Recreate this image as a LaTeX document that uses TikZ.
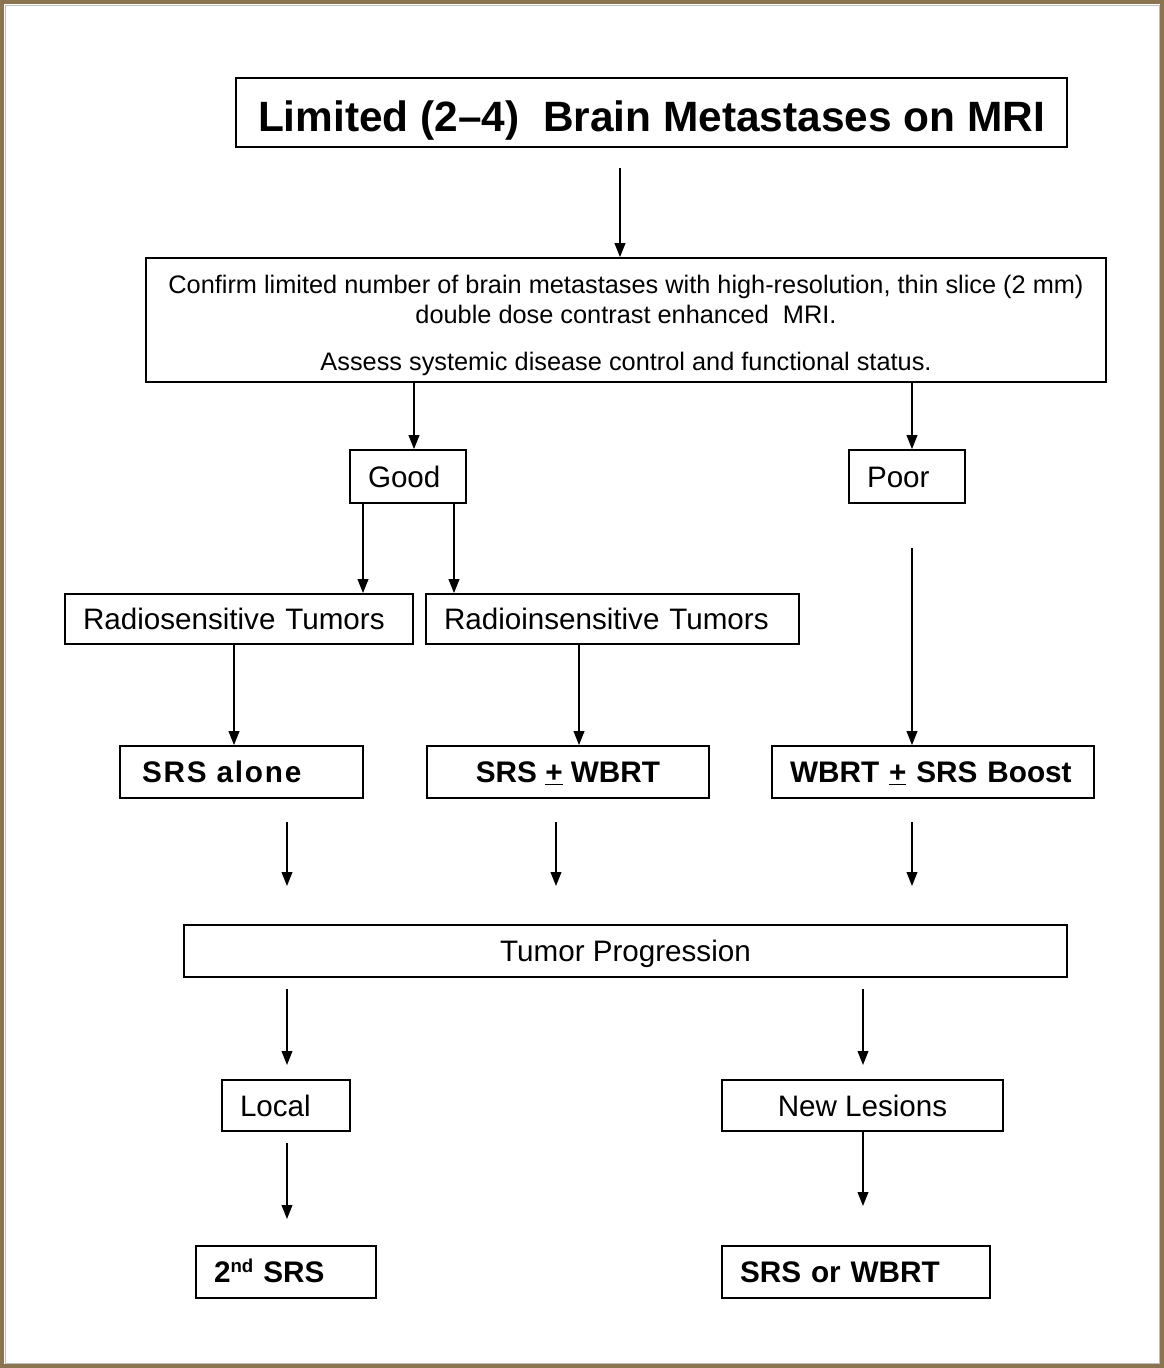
\documentclass[tikz,border=0pt]{standalone}
\usepackage{fontspec}
\setmainfont{Liberation Sans}
\usetikzlibrary{arrows.meta}
\definecolor{framebrown}{RGB}{139,116,82}
\begin{document}
\begin{tikzpicture}[x=0.75pt,y=-0.75pt,
  box/.style={draw=black,line width=1.3pt,rectangle,inner sep=0pt,text height=18.4pt,text depth=2.2pt,font=\fontsize{22.2}{26}\selectfont},
  lbox/.style={box,inner xsep=13.5pt,align=left},
  bbox/.style={box,font=\fontsize{22.3}{26}\selectfont\bfseries},
  lbbox/.style={lbox,font=\fontsize{22.3}{26}\selectfont\bfseries},
  arr/.style={line width=1.3pt,-{Triangle[length=10.5pt,width=8pt]}}]
\useasboundingbox (0,0) rectangle (1164,1368);
\fill[framebrown] (0,0) rectangle (1164,1368);
\fill[white] (4,4) rectangle (1160,1364);
\draw[black!25,line width=0.6pt] (5,5) rectangle (1159,1363);

\node[box,minimum width=831*0.75pt,minimum height=69*0.75pt,text height=31pt,text depth=3.2pt,font=\fontsize{31.8}{36}\selectfont\bfseries] (title) at (651.5,112.5) {Limited (2–4)\ \ Brain Metastases on MRI};
\node[draw=black,line width=1.3pt,inner sep=0pt,minimum width=960*0.75pt,minimum height=124*0.75pt,align=center,font=\fontsize{19}{22.5}\selectfont] (confirm) at (626,320) {\rule{0pt}{21.5pt}Confirm limited number of brain metastases with high-resolution, thin slice (2 mm)\\ double dose contrast enhanced\ \ MRI.\\[12.5pt] Assess systemic disease control and functional status.};

\node[lbox,text width=(116-36)*0.75pt,minimum height=53*0.75pt] (good) at (408,476.5) {Good};
\node[lbox,text width=(116-36)*0.75pt,minimum height=53*0.75pt] (poor) at (907,476.5) {Poor};

\node[lbox,text width=(346-34)*0.75pt,minimum height=50*0.75pt] (rs) at (239,619) {Radiosensitive Tumors};
\node[lbox,text width=(371-34)*0.75pt,minimum height=50*0.75pt] (ri) at (612.5,619) {Radioinsensitive Tumors};

\node[lbbox,text width=(243-44)*0.75pt,minimum height=52*0.75pt,inner xsep=16.5pt] (srsa) at (241.5,772) {\addfontfeature{LetterSpace=6}SRS alone};
\node[bbox,minimum width=282*0.75pt,minimum height=52*0.75pt] (srsw) at (568,772) {SRS \underline{+} WBRT};
\node[lbbox,text width=(320-34)*0.75pt,minimum height=52*0.75pt] (wbrt) at (933,772) {WBRT \underline{+} SRS Boost};

\node[box,minimum width=883*0.75pt,minimum height=52*0.75pt] (tp) at (625.5,951) {Tumor Progression};

\node[lbox,text width=(128-36)*0.75pt,minimum height=51*0.75pt] (local) at (286,1105.5) {Local};
\node[box,minimum width=281*0.75pt,minimum height=51*0.75pt] (newl) at (862.5,1105.5) {New Lesions};

\node[lbbox,text width=(180-36)*0.75pt,minimum height=52*0.75pt] (srs2) at (286,1272) {2\raisebox{0.36em}{\fontsize{14}{14}\selectfont nd} SRS};
\node[lbbox,text width=(268-36)*0.75pt,minimum height=52*0.75pt] (srsor) at (856,1272) {SRS or WBRT};

% connectors
\coordinate (t1) at (620,168);
\draw[arr] (t1) -- (t1 |- confirm.north);
\coordinate (c1) at (414,450);
\coordinate (c2) at (912,450);
\draw[arr] (confirm.south -| c1) -- (c1 |- good.north);
\draw[arr] (confirm.south -| c2) -- (c2 |- poor.north);
\coordinate (g1) at (363,594);
\coordinate (g2) at (454,594);
\draw[arr] (good.south -| g1) -- (g1 |- rs.north);
\draw[arr] (good.south -| g2) -- (g2 |- ri.north);
\coordinate (r1) at (234,746);
\coordinate (r2) at (579,746);
\draw[arr] (rs.south -| r1) -- (r1 |- srsa.north);
\draw[arr] (ri.south -| r2) -- (r2 |- srsw.north);
\coordinate (p1) at (912,548);
\draw[arr] (p1) -- (p1 |- wbrt.north);

\coordinate (s1a) at (287,822); \coordinate (s1b) at (287,886);
\coordinate (s2a) at (556,822); \coordinate (s2b) at (556,886);
\coordinate (s3a) at (912,822); \coordinate (s3b) at (912,886);
\draw[arr] (s1a) -- (s1b);
\draw[arr] (s2a) -- (s2b);
\draw[arr] (s3a) -- (s3b);

\coordinate (l1a) at (287,989); \coordinate (l1b) at (287,1065);
\coordinate (n1a) at (863,989); \coordinate (n1b) at (863,1065);
\draw[arr] (l1a) -- (l1b);
\draw[arr] (n1a) -- (n1b);

\coordinate (l2a) at (287,1143); \coordinate (l2b) at (287,1219);
\coordinate (n2b) at (863,1206);
\draw[arr] (l2a) -- (l2b);
\draw[arr] (newl.south -| n2b) -- (n2b);
\end{tikzpicture}
\end{document}
